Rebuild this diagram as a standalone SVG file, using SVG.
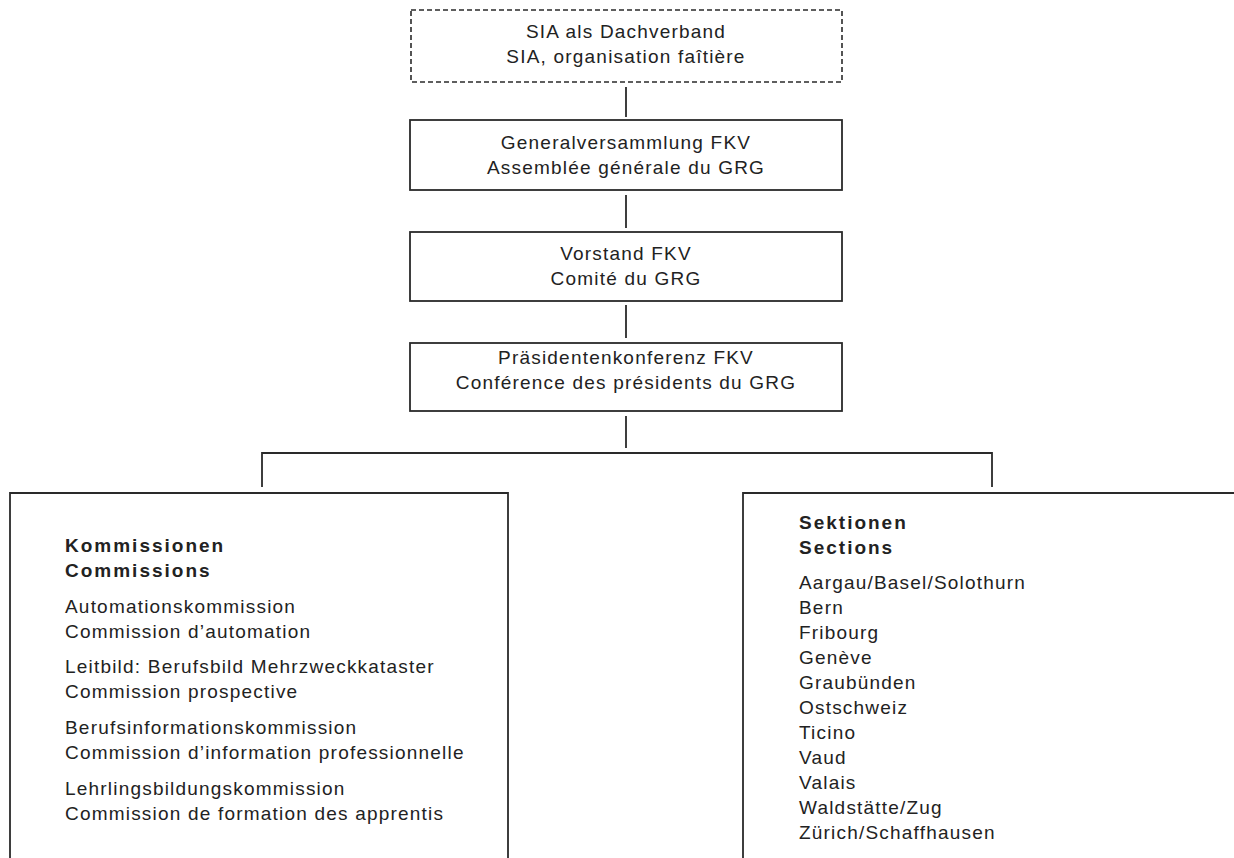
<svg xmlns="http://www.w3.org/2000/svg" width="1234" height="858" viewBox="0 0 1234 858">
<style>
.box{fill:none;stroke:#2a2a2a;stroke-width:1.8}
.dash{fill:none;stroke:#2a2a2a;stroke-width:1.6;stroke-dasharray:5 3}
.ln{fill:none;stroke:#2a2a2a;stroke-width:1.8}
text{font-family:"Liberation Sans",Arial,sans-serif;font-size:19px;fill:#222;letter-spacing:1.2px}
.c{text-anchor:middle}
.b{font-weight:bold;letter-spacing:2px}
</style>
<rect width="1234" height="858" fill="#fff"/>
<g id="sia">
<rect class="dash" x="411" y="10" width="431" height="72"/>
<text class="c" x="626" y="38">SIA als Dachverband</text>
<text class="c" x="626" y="63">SIA, organisation faîtière</text>
</g>
<g id="generalversammlung">
<rect class="box" x="410" y="120" width="432" height="70"/>
<text class="c" x="626" y="149">Generalversammlung FKV</text>
<text class="c" x="626" y="174">Assemblée générale du GRG</text>
</g>
<g id="vorstand">
<rect class="box" x="410" y="232" width="432" height="69"/>
<text class="c" x="626" y="260">Vorstand FKV</text>
<text class="c" x="626" y="285">Comité du GRG</text>
</g>
<g id="praesidentenkonferenz">
<rect class="box" x="410" y="343" width="432" height="68"/>
<text class="c" x="626" y="364">Präsidentenkonferenz FKV</text>
<text class="c" x="626" y="389">Conférence des présidents du GRG</text>
</g>
<g id="kommissionen">
<path class="box" d="M10,860 V493 H508 V860"/>
<text class="b" x="65" y="552">Kommissionen</text>
<text class="b" x="65" y="577">Commissions</text>
<text x="65" y="613">Automationskommission</text>
<text x="65" y="638">Commission d’automation</text>
<text x="65" y="673">Leitbild: Berufsbild Mehrzweckkataster</text>
<text x="65" y="698">Commission prospective</text>
<text x="65" y="734">Berufsinformationskommission</text>
<text x="65" y="759">Commission d’information professionnelle</text>
<text x="65" y="795">Lehrlingsbildungskommission</text>
<text x="65" y="820">Commission de formation des apprentis</text>
</g>
<g id="sektionen">
<path class="box" d="M743,860 V493 H1236"/>
<text class="b" x="799" y="529">Sektionen</text>
<text class="b" x="799" y="554">Sections</text>
<text x="799" y="589">Aargau/Basel/Solothurn</text>
<text x="799" y="614">Bern</text>
<text x="799" y="639">Fribourg</text>
<text x="799" y="664">Genève</text>
<text x="799" y="689">Graubünden</text>
<text x="799" y="714">Ostschweiz</text>
<text x="799" y="739">Ticino</text>
<text x="799" y="764">Vaud</text>
<text x="799" y="789">Valais</text>
<text x="799" y="814">Waldstätte/Zug</text>
<text x="799" y="839">Zürich/Schaffhausen</text>
</g>
<g id="connectors">
<path class="ln" d="M626,87 V117"/>
<path class="ln" d="M626,195 V228"/>
<path class="ln" d="M626,305 V338"/>
<path class="ln" d="M626,416 V448"/>
<path class="ln" d="M262,487 V453 H992 V487"/>
</g>
</svg>
